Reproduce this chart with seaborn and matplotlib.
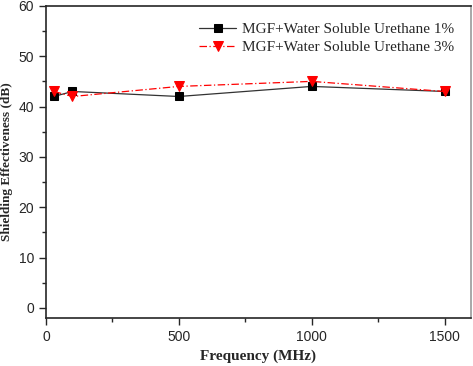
import matplotlib
matplotlib.use("Agg")
import matplotlib.pyplot as plt
import seaborn as sns
import pandas as pd
from matplotlib.ticker import MultipleLocator

# Data
freq = [30, 100, 500, 1000, 1500]
se_1pct = [42, 43, 42, 44, 43]
se_3pct = [43, 42, 44, 45, 43]
labels = ["MGF+Water Soluble Urethane 1%", "MGF+Water Soluble Urethane 3%"]

df = pd.DataFrame({"Frequency": freq * 2,
                   "SE": se_1pct + se_3pct,
                   "Series": [labels[0]] * 5 + [labels[1]] * 5})

sns.set_style("ticks")
plt.rcParams["font.family"] = ["Liberation Sans", "DejaVu Sans"]

fig = plt.figure(figsize=(4.73, 3.66), dpi=100)
ax = fig.add_axes([0.097, 0.131, 0.899, 0.853])

sns.lineplot(data=df[df["Series"] == labels[0]], x="Frequency", y="SE", ax=ax,
             color="#333333", lw=0.9, marker="s", markersize=6,
             markerfacecolor="black", markeredgecolor="black", label=labels[0])
sns.lineplot(data=df[df["Series"] == labels[1]], x="Frequency", y="SE", ax=ax,
             color="red", lw=0.9, linestyle=(0, (6, 2, 1, 2)), marker="v", markersize=7,
             markerfacecolor="red", markeredgecolor="red", label=labels[1])

ax.set_xlim(0, 1600)
ax.set_ylim(-2, 60)
ax.xaxis.set_major_locator(MultipleLocator(500))
ax.xaxis.set_minor_locator(MultipleLocator(250))
ax.yaxis.set_major_locator(MultipleLocator(10))
ax.yaxis.set_minor_locator(MultipleLocator(5))
ax.tick_params(which="both", direction="out", labelsize=10, width=1)
ax.tick_params(which="major", length=5)
ax.tick_params(which="minor", length=3)
for s in ax.spines.values():
    s.set_visible(True)
    s.set_linewidth(1.2)
ax.spines["right"].set_color("#999999")

ax.set_xlabel("Frequency (MHz)", family="Liberation Serif", fontweight="bold", fontsize=11)
ax.set_ylabel("Shielding Effectiveness (dB)", family="Liberation Serif", fontweight="bold",
              fontsize=9.5)
ax.yaxis.set_label_coords(-0.078, 0.5)

ax.legend(loc="upper right", frameon=False, prop={"family": "Liberation Serif", "size": 11},
          handlelength=2.4, handletextpad=0.4, borderaxespad=0.7, labelspacing=0.25)

fig.savefig("out.png", dpi=100)
